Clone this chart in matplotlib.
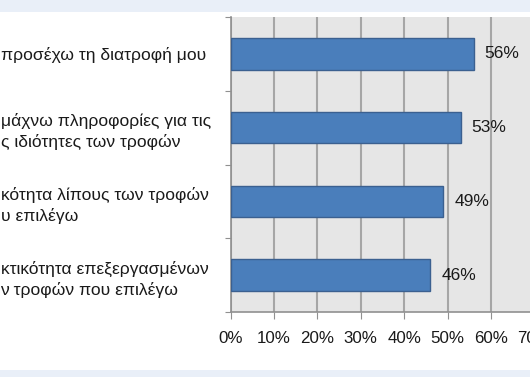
import matplotlib
matplotlib.use('Agg')
import matplotlib.pyplot as plt
from matplotlib.patches import Rectangle
import numpy as np

plt.rcParams['font.family'] = ['Liberation Sans', 'DejaVu Sans']

# labels as visible in the (cropped) picture, top to bottom
labels = [
    'προσέχω τη διατροφή μου',
    'μάχνω πληροφορίες για τις\nς ιδιότητες των τροφών',
    'κότητα λίπους των τροφών\nυ επιλέγω',
    'κτικότητα επεξεργασμένων\nν τροφών που επιλέγω',
]
values = [0.56, 0.53, 0.49, 0.46]
xticks = [0, 0.1, 0.2, 0.3, 0.4, 0.5, 0.6, 0.7]

fig = plt.figure(figsize=(5.30, 3.77), dpi=100)
fig.patch.set_facecolor('white')

# light blue strips top and bottom
fig.patches.append(Rectangle((0, 1 - 12/377), 1, 12/377, transform=fig.transFigure,
                             facecolor='#e9eff8', edgecolor='none', zorder=-1))
fig.patches.append(Rectangle((0, 0), 1, 7/377, transform=fig.transFigure,
                             facecolor='#e9eff8', edgecolor='none', zorder=-1))

ax = fig.add_axes([230.5/530, 65/377, 303.8/530, 295/377])
ax.set_facecolor('#e6e6e6')

n = len(values)
ypos = np.arange(n)[::-1]
bars = ax.barh(ypos, values, height=0.43, color='#4a7ebb', edgecolor='#3b6090',
               linewidth=1, zorder=3)
ax.bar_label(bars, labels=['{:.0f}%'.format(v * 100) for v in values],
             padding=8, fontsize=12.5, color='#1a1a1a')

ax.set_xlim(0, 0.7)
ax.set_ylim(-0.5, n - 0.5)
ax.set_xticks(xticks)
ax.set_xticklabels(['{:.0f}%'.format(t * 100) for t in xticks], fontsize=12.2,
                   color='#1a1a1a')
ax.xaxis.grid(True, color='#a6a6a6', linewidth=1.5, zorder=1)
ax.set_axisbelow(True)

# category boundaries get the tick marks, centres get the labels
ax.set_yticks(np.arange(-0.5, n, 1.0))
ax.set_yticklabels([])
ax.set_yticks(ypos, minor=True)
ax.set_yticklabels(labels, minor=True, fontsize=12.6, ha='left', linespacing=1.4,
                   color='#1a1a1a')
ax.tick_params(axis='y', which='minor', length=0, pad=230 * 0.72)
ax.tick_params(axis='y', which='major', length=4, color='#909090')
ax.tick_params(axis='x', length=5, color='#909090', pad=9)

for s in ['top', 'right']:
    ax.spines[s].set_visible(False)
ax.spines['left'].set_color('#909090')
ax.spines['bottom'].set_color('#909090')
ax.spines['left'].set_linewidth(1.2)
ax.spines['bottom'].set_linewidth(1.2)

fig.savefig('out.png', dpi=100)
